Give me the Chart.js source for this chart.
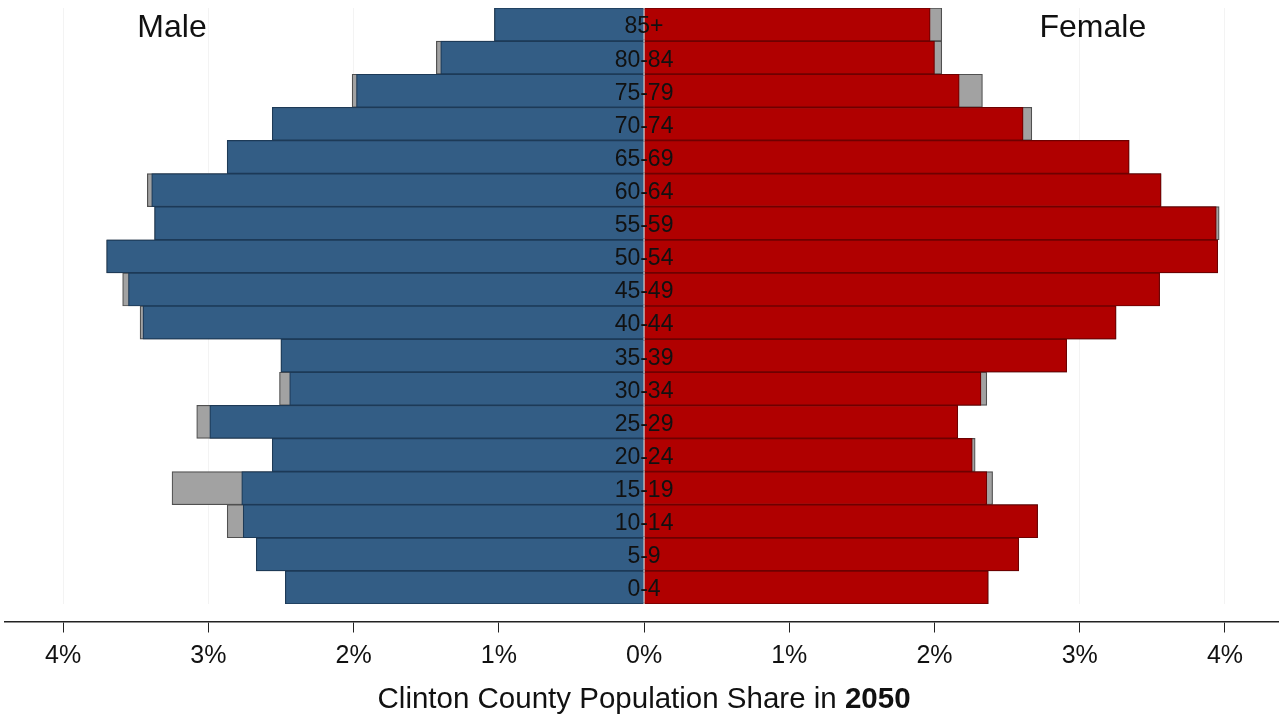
<!DOCTYPE html>
<html>
<head>
<meta charset="utf-8">
<script src="https://cdn.jsdelivr.net/npm/chart.js@4"></script>
<style>
  body { margin: 0; background: #fff; }
  #wrap { width: 1281px; height: 717px; }
</style>
</head>
<body>
<div id="wrap"><canvas id="pyramid" width="1281" height="717"></canvas></div>
<script>
// age groups, top to bottom
const ageGroups = ['85+', '80-84', '75-79', '70-74', '65-69', '60-64', '55-59', '50-54', '45-49',
  '40-44', '35-39', '30-34', '25-29', '20-24', '15-19', '10-14', '5-9', '0-4'];

// share of county population in 2050 (%)
const maleShare = [1.03, 1.40, 1.98, 2.56, 2.87, 3.39, 3.37, 3.70, 3.55,
  3.45, 2.50, 2.44, 2.99, 2.56, 2.77, 2.76, 2.67, 2.47];
const femaleShare = [1.97, 2.00, 2.17, 2.61, 3.34, 3.56, 3.94, 3.95, 3.55,
  3.25, 2.91, 2.32, 2.16, 2.26, 2.36, 2.71, 2.58, 2.37];

// grey comparison bars drawn behind
const maleCompare = [1.03, 1.43, 2.01, 2.56, 2.87, 3.42, 3.37, 3.70, 3.59,
  3.47, 2.50, 2.51, 3.08, 2.56, 3.25, 2.87, 2.67, 2.47];
const femaleCompare = [2.05, 2.05, 2.33, 2.67, 3.34, 3.56, 3.96, 3.95, 3.55,
  3.25, 2.91, 2.36, 2.16, 2.28, 2.40, 2.71, 2.58, 2.37];

const xTicks = [-4, -3, -2, -1, 0, 1, 2, 3, 4];

const font = '"Liberation Sans", Arial, sans-serif';
const neg = (arr) => arr.map((v) => -v);

const barStyle = {
  barPercentage: 1,
  categoryPercentage: 1,
  grouped: false,
  borderWidth: 1.2,
  borderSkipped: 'start',
};

// age labels in the middle, Male / Female headers, axis title
const pyramidText = {
  id: 'pyramidText',
  afterDatasetsDraw(chart) {
    const { ctx, scales: { x, y } } = chart;
    ctx.save();
    ctx.fillStyle = '#111';
    ctx.textAlign = 'center';
    ctx.textBaseline = 'middle';
    ctx.font = `23px ${font}`;
    ageGroups.forEach((age, i) => {
      ctx.fillText(age, x.getPixelForValue(0), y.getPixelForValue(i) + 2.5);
    });

    ctx.textBaseline = 'alphabetic';
    ctx.font = `32px ${font}`;
    ctx.fillText('Male', x.getPixelForValue(-3.25), 37);
    ctx.fillText('Female', x.getPixelForValue(3.09), 37);

    // title with bold year
    const part1 = 'Clinton County Population Share in ';
    const part2 = '2050';
    ctx.font = `29.5px ${font}`;
    const w1 = ctx.measureText(part1).width;
    ctx.font = `bold 29.5px ${font}`;
    const w2 = ctx.measureText(part2).width;
    const startX = x.getPixelForValue(0) - (w1 + w2) / 2;
    ctx.textAlign = 'left';
    ctx.font = `29.5px ${font}`;
    ctx.fillText(part1, startX, 708);
    ctx.font = `bold 29.5px ${font}`;
    ctx.fillText(part2, startX + w1, 708);
    ctx.restore();
  },
};

new Chart(document.getElementById('pyramid'), {
  type: 'bar',
  data: {
    labels: ageGroups,
    datasets: [
      { label: 'Male', data: neg(maleShare), backgroundColor: '#335d85', borderColor: '#1d3a57', order: 1, ...barStyle },
      { label: 'Female', data: femaleShare, backgroundColor: '#b00000', borderColor: '#6e0000', order: 1, ...barStyle },
      { label: 'Male other', data: neg(maleCompare), backgroundColor: '#a2a2a2', borderColor: '#505050', order: 2, ...barStyle },
      { label: 'Female other', data: femaleCompare, backgroundColor: '#a2a2a2', borderColor: '#505050', order: 2, ...barStyle },
    ],
  },
  options: {
    indexAxis: 'y',
    responsive: false,
    animation: false,
    devicePixelRatio: 1,
    layout: { padding: { left: 5, right: 3, top: 8, bottom: 113 } },
    scales: {
      x: {
        min: -4.4,
        max: 4.365,
        position: { y: 18.04 },
        afterBuildTicks: (s) => { s.ticks = xTicks.map((v) => ({ value: v })); },
        border: { display: true, color: '#222', width: 1.5 },
        grid: { color: '#f3f3f3', tickColor: '#222', tickLength: 10, drawTicks: true },
        ticks: {
          color: '#111',
          padding: 9,
          font: { family: font, size: 25 },
          callback: (v) => `${Math.abs(v)}%`,
        },
      },
      y: {
        display: false,
      },
    },
    plugins: {
      legend: { display: false },
      tooltip: { enabled: false },
    },
  },
  plugins: [pyramidText],
});
</script>
</body>
</html>
